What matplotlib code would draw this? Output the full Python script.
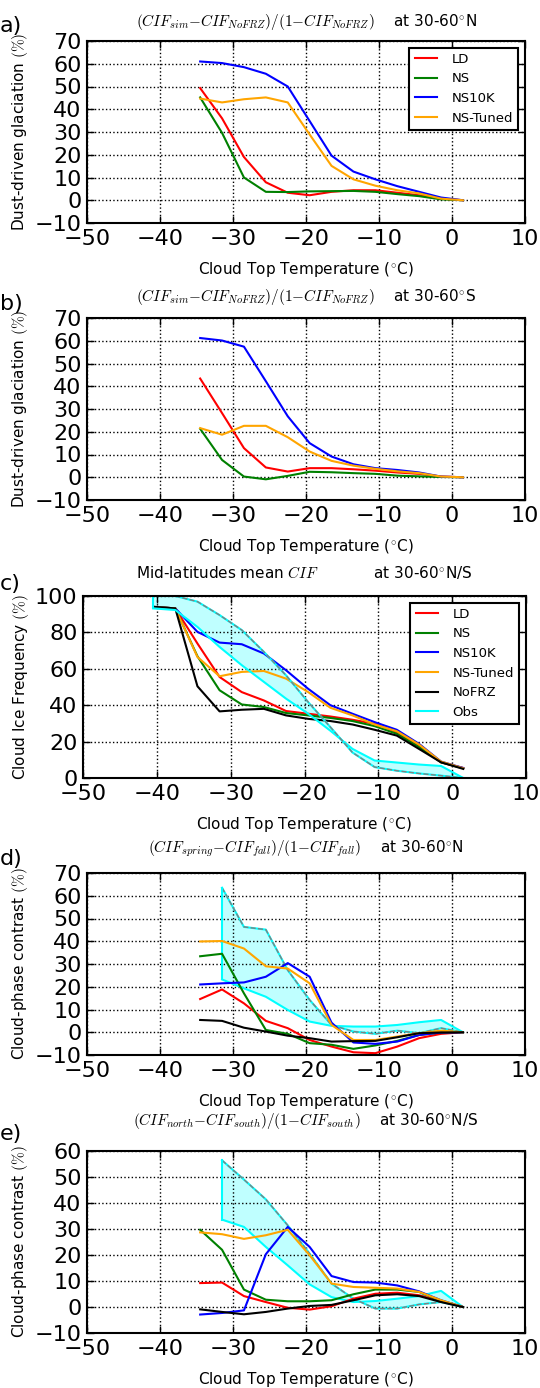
import numpy as np
import matplotlib
matplotlib.use("Agg")
import matplotlib.pyplot as plt

plt.rcParams['mathtext.fontset']='cm'
plt.rcParams['font.family']=['DejaVu Sans']

# temperature bins (deg C)
temps=[-34.5,-31.5,-28.5,-25.5,-22.5,-19.5,-16.5,-13.5,-10.5,-7.5,-4.5,-1.5,1.5]
temps_c=[-40.5,-37.5,-34.5,-31.5,-28.5,-25.5,-22.5,-19.5,-16.5,-13.5,-10.5,-7.5,-4.5,-1.5,1.5]

# a) dust-driven glaciation, 30-60N
a_ld=[49.3,36,19,7.9,3.3,2.2,3.7,4.4,4.4,3.3,2.2,0.7,0]
a_ns=[45.2,29.6,10,3.7,3.6,3.9,4,4.1,3.7,2.7,1.8,0.4,0]
a_ns10k=[61,60.3,58.5,55.6,50,34.8,19.6,12.6,9.2,6.2,3.7,1.2,0]
a_tuned=[44.7,43,44.4,45.2,43,28.9,15.1,9.2,6.4,4.4,3,0.7,0]

# b) dust-driven glaciation, 30-60S
b_ld=[43.4,28.2,12.8,4.3,2.5,4,4,3.5,2.9,2.1,1.5,0.3,0]
b_ns=[21.3,7.6,0.3,-0.9,0.6,2.4,2.2,1.8,1.5,0.7,0.4,0.1,0]
b_ns10k=[61.2,60.1,57.4,42.2,26.8,15,9.1,5.7,4,3.2,2.1,0.3,0]
b_tuned=[21.6,18.7,22.6,22.6,17.6,11.3,7.2,5.1,3.7,2.6,1.8,0.3,0]

# c) mean cloud ice frequency
c_ld=[94,93.2,73.9,55.5,47.2,42.6,36.8,35.3,33.8,32,29.8,25.2,17.8,8.6,5.5]
c_ns=[94,93.2,66.9,48.2,40.4,39,35.7,34.4,33,31.3,28.5,24.3,17,8.6,5.3]
c_ns10k=[94,93.2,80.3,74.4,73.5,68.4,59.2,49,40,35.3,30.7,26.5,18.8,9,5.5]
c_tuned=[94,93.2,66.5,55.9,58.3,58.8,54.6,47.2,38.6,34.4,29.4,25.7,18.4,9,5.3]
c_nofrz=[94.1,93.2,50.4,36.6,37.5,38,34.4,32.5,31.3,29.4,26.5,23.3,16,8.6,5]
c_obs1=[100,100,96.9,89.5,81.3,69.3,56.4,41.7,28,14,6,4,2.5,1.3,0]
c_obs2=[93.2,92.3,83,72,62,52.8,43.6,35.3,26,16,9.6,8.5,7.4,6.6,0]

# d) spring vs fall contrast, 30-60N
d_ld=[14.6,18.8,12.7,5,1.8,-3.4,-6.3,-8.8,-9.2,-6.3,-2.6,-0.7,0]
d_ns=[33.4,34.5,17.1,1,-0.7,-4.8,-5.5,-7.3,-5.8,-3.8,-1.2,-0.1,0]
d_ns10k=[21,21.5,21.9,24.4,30.4,24.4,4.2,-4.5,-5.1,-4.1,-1.2,-0.1,0]
d_tuned=[39.9,40.1,36.8,29,28,21.5,3.2,-3.4,-3.4,-1.9,-0.4,0.7,0]
d_nofrz=[5.4,5,2,0.3,-1.5,-2.6,-4.1,-3.9,-3.8,-2.2,-0.4,-0.1,0]
d_obs1=[np.nan,63.5,46.3,45.1,27.3,14.2,3.2,0.3,-0.7,0.7,-0.4,1.8,0]
d_obs2=[np.nan,23.2,19.3,15.6,9.8,4.7,2.8,2.5,2.5,3.2,4.4,5.4,0]

# e) north vs south contrast
e_ld=[9.2,9.4,4.2,1.9,-0.3,-1,0.3,3.2,5.1,5.5,4.5,2.2,0]
e_ns=[29.7,22,6.7,2.8,2.2,2.2,2.6,4.9,6.7,6.7,5.8,2.3,0]
e_ns10k=[-2.9,-2.3,-1.3,20.3,30.8,23.1,11.9,9.6,9.4,8.3,6,2.6,0]
e_tuned=[28.7,28,26.2,27.6,29.7,19.9,9,7.7,7.4,7.1,5.8,2.6,0]
e_nofrz=[-0.9,-1.9,-2.8,-1.9,-0.6,0.4,0.8,2.6,4.5,4.9,4.2,1.9,0]
e_obs1=[np.nan,56.4,49,41.4,31.4,20.5,9,3.2,-0.6,-0.6,1,1.9,0]
e_obs2=[np.nan,33.6,30.8,23.1,16,8.7,3.8,1.9,2.3,3.2,4.2,6.2,0]

W,H=540,1388
fig=plt.figure(figsize=(W/100,H/100),dpi=100)

def box(left,top,bottom,right=525):
    return [left/W,1-bottom/H,(right-left)/W,(bottom-top)/H]

cols={'LD':'red','NS':'green','NS10K':'blue','NS-Tuned':'orange','NoFRZ':'black','Obs':'cyan'}

def style(ax,ylim,yticks,ylabel,title,label,ly,tpad):
    ax.set_xlim(-50,10)
    ax.set_ylim(*ylim)
    ax.set_xticks([-50,-40,-30,-20,-10,0,10])
    ax.set_yticks(yticks)
    ax.tick_params(labelsize=16,direction='in',top=True,right=True,length=5,width=1,pad=4)
    ax.grid(True,linestyle=':',color='black',linewidth=1)
    for s in ax.spines.values():
        s.set_linewidth(1.5)
    ax.set_xlabel(r'Cloud Top Temperature ($^{\circ}$C)',fontsize=11,labelpad=8)
    ax.set_ylabel(ylabel+r' $(\%)$',fontsize=11,labelpad=3)
    ax.set_title(title,fontsize=11,pad=tpad)
    fig.text(0.0,1-ly/H,label,fontsize=16,va='center',ha='left')

def models(ax,ld,ns,ns10k,tuned,x):
    ax.plot(x,ld,color=cols['LD'],lw=1.5,label='LD')
    ax.plot(x,ns,color=cols['NS'],lw=1.5,label='NS')
    ax.plot(x,ns10k,color=cols['NS10K'],lw=1.5,label='NS10K')
    ax.plot(x,tuned,color=cols['NS-Tuned'],lw=1.5,label='NS-Tuned')

def obs(ax,o1,o2,x):
    o1=np.array(o1); o2=np.array(o2)
    ax.fill_between(x,o1,o2,color='cyan',alpha=0.25,lw=0)
    ax.plot(x,o2,color='cyan',lw=1.5,label='Obs')
    ax.plot(x,o1,color='cyan',lw=1.5)
    ax.plot(x,o1,color='gray',lw=1,linestyle='--')
    ax.plot([x[1],x[1]],[o1[1],o2[1]],color='cyan',lw=1.5)

def leg(ax):
    lg=ax.legend(loc='upper right',fontsize=9.5,handlelength=1.7,handletextpad=1.1,labelspacing=0.5,
                 borderaxespad=0.5,fancybox=False,framealpha=1,edgecolor='black')
    lg.get_frame().set_linewidth(1.5)

ax=fig.add_axes(box(87,41,223))
models(ax,a_ld,a_ns,a_ns10k,a_tuned,temps)
style(ax,(-10,70),range(-10,71,10),'Dust-driven glaciation',
      r'$(CIF_{sim}{-}CIF_{NoFRZ})/(1{-}CIF_{NoFRZ})$    at 30-60$^{\circ}$N','a)',26,10.5)
leg(ax)

ax=fig.add_axes(box(87,318,500))
models(ax,b_ld,b_ns,b_ns10k,b_tuned,temps)
style(ax,(-10,70),range(-10,71,10),'Dust-driven glaciation',
      r'$(CIF_{sim}{-}CIF_{NoFRZ})/(1{-}CIF_{NoFRZ})$    at 30-60$^{\circ}$S','b)',304,12.5)

ax=fig.add_axes(box(83,596,778,526))
ax.fill_between(temps_c,c_obs1,c_obs2,color='cyan',alpha=0.25,lw=0)
models(ax,c_ld,c_ns,c_ns10k,c_tuned,temps_c)
ax.plot(temps_c,c_nofrz,color='black',lw=1.5,label='NoFRZ')
ax.plot(temps_c,c_obs2,color='cyan',lw=1.5,label='Obs')
ax.plot(temps_c,c_obs1,color='cyan',lw=1.5)
ax.plot(temps_c,c_obs1,color='gray',lw=1,linestyle='--')
ax.plot([temps_c[0],temps_c[0]],[c_obs1[0],c_obs2[0]],color='cyan',lw=1.5)
style(ax,(0,100),range(0,101,20),'Cloud Ice Frequency',
      r'Mid-latitudes mean $CIF$            at 30-60$^{\circ}$N/S','c)',584,13)
leg(ax)

ax=fig.add_axes(box(87,873,1055))
obs(ax,d_obs1,d_obs2,temps)
models(ax,d_ld,d_ns,d_ns10k,d_tuned,temps)
ax.plot(temps,d_nofrz,color='black',lw=1.5,label='NoFRZ')
style(ax,(-10,70),range(-10,71,10),'Cloud-phase contrast',
      r'$(CIF_{spring}{-}CIF_{fall})/(1{-}CIF_{fall})$    at 30-60$^{\circ}$N','d)',859,14.5)

ax=fig.add_axes(box(87,1151,1333))
obs(ax,e_obs1,e_obs2,temps)
models(ax,e_ld,e_ns,e_ns10k,e_tuned,temps)
ax.plot(temps,e_nofrz,color='black',lw=1.5,label='NoFRZ')
style(ax,(-10,60),range(-10,61,10),'Cloud-phase contrast',
      r'$(CIF_{north}{-}CIF_{south})/(1{-}CIF_{south})$    at 30-60$^{\circ}$N/S','e)',1134,19)

fig.savefig('out.png',dpi=100)
